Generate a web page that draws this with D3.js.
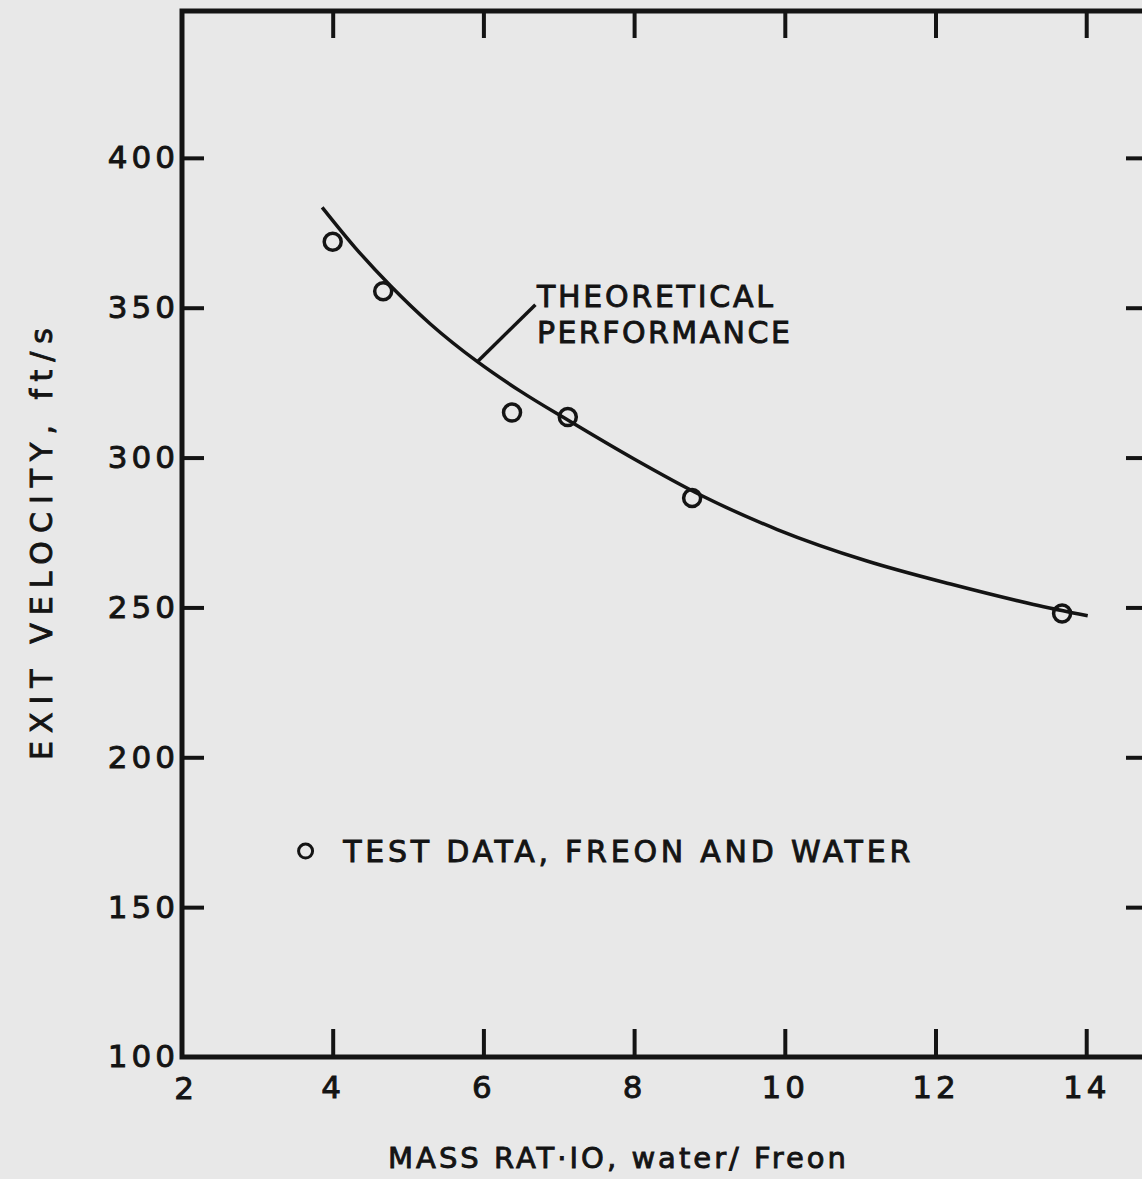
<!DOCTYPE html>
<html>
<head>
<meta charset="utf-8">
<script src="https://cdn.jsdelivr.net/npm/d3@7"></script>
<style>
  html, body { margin: 0; padding: 0; background: #e8e8e8; }
  svg { display: block; }
  text { font-family: "DejaVu Sans", sans-serif; fill: #141414; stroke: #141414; stroke-width: 0.9px; }
</style>
</head>
<body>
<div id="chart"></div>
<script>
// ---- data ----
const xTicks = [2, 4, 6, 8, 10, 12, 14];
const yTicks = [100, 150, 200, 250, 300, 350, 400];

// test data, Freon and water
const testMass = [4.0, 4.67, 6.38, 7.12, 8.77, 13.68];
const testVel = [372, 355.5, 315, 313.5, 286.5, 248];

// theoretical performance curve
const theoMass = [3.86, 4.3, 4.76, 5.3, 5.92, 6.5, 7.12, 8.0, 8.88, 9.9, 11.09, 12.2, 13.3, 14.02];
const theoVel = [383.5, 370, 357.5, 344.5, 332, 322, 312.5, 299.5, 287.5, 276, 265.5, 257.8, 251, 247.2];

const W = 1142, H = 1179;
const ink = "#141414";

const svg = d3.select("#chart").append("svg")
  .attr("width", W)
  .attr("height", H);

const x = d3.scaleLinear().domain([2, 14.82]).range([182, 1148]);
const y = d3.scaleLinear().domain([100, 449]).range([1057, 11]);

// frame
svg.append("rect")
  .attr("x", x(2))
  .attr("y", y(449))
  .attr("width", x(14.82) - x(2))
  .attr("height", y(100) - y(449))
  .attr("fill", "none")
  .attr("stroke", ink)
  .attr("stroke-width", 5);

// =========================
// AXES (ticks drawn inward)
// =========================
function styleAxis(g) {
  g.select(".domain").remove();
  g.selectAll(".tick line").attr("stroke", ink).attr("stroke-width", 4);
  g.selectAll(".tick text")
    .attr("fill", ink)
    .style("font-size", "31px")
    .style("letter-spacing", "4px");
}

svg.append("g")
  .attr("transform", `translate(0,${y(100)})`)
  .call(d3.axisBottom(x).tickValues(xTicks.slice(1)).tickSize(-28).tickPadding(19).tickFormat(d3.format("d")))
  .call(styleAxis);

svg.append("g")
  .attr("transform", `translate(0,${y(449)})`)
  .call(d3.axisTop(x).tickValues(xTicks.slice(1)).tickSize(-27).tickFormat(""))
  .call(styleAxis);

svg.append("g")
  .attr("transform", `translate(${x(2)},0)`)
  .call(d3.axisLeft(y).tickValues(yTicks).tickSize(-22).tickPadding(3).tickFormat(d3.format("d")))
  .call(styleAxis)
  .call(g => g.selectAll(".tick").filter(d => d === 100).select("line").remove());

svg.append("g")
  .attr("transform", `translate(${x(14.82)},0)`)
  .call(d3.axisRight(y).tickValues(yTicks.slice(1)).tickSize(-22).tickFormat(""))
  .call(styleAxis);

// bottom "2" label sits at the corner
svg.append("text")
  .attr("x", x(2) + 2)
  .attr("y", y(100) + 42)
  .attr("text-anchor", "middle")
  .style("font-size", "31px")
  .text(xTicks[0]);

// =========================
// AXIS TITLES
// =========================
svg.append("text")
  .attr("transform", `translate(52,${(y(100) + y(449)) / 2 + 10}) rotate(-90)`)
  .attr("text-anchor", "middle")
  .attr("textLength", 432)
  .attr("lengthAdjust", "spacing")
  .style("font-size", "30px")
  .text("EXIT VELOCITY, ft/s");

svg.append("text")
  .attr("x", 617)
  .attr("y", 1168)
  .attr("text-anchor", "middle")
  .attr("textLength", 458)
  .attr("lengthAdjust", "spacing")
  .style("font-size", "29px")
  .text("MASS RAT\u00B7IO, water/ Freon");

// =========================
// THEORETICAL CURVE
// =========================
const line = d3.line()
  .x((d, i) => x(theoMass[i]))
  .y((d, i) => y(theoVel[i]))
  .curve(d3.curveMonotoneX);

svg.append("path")
  .attr("d", line(theoMass))
  .attr("fill", "none")
  .attr("stroke", ink)
  .attr("stroke-width", 3.5);

// leader + label
svg.append("line")
  .attr("x1", x(5.92)).attr("y1", y(332))
  .attr("x2", x(6.69)).attr("y2", y(351))
  .attr("stroke", ink)
  .attr("stroke-width", 3.5);

const lbl = svg.append("g").style("font-size", "30px");
lbl.append("text")
  .attr("x", x(6.71)).attr("y", y(350.3))
  .attr("textLength", 236).attr("lengthAdjust", "spacing")
  .text("THEORETICAL");
lbl.append("text")
  .attr("x", x(6.71)).attr("y", y(338.3))
  .attr("textLength", 253).attr("lengthAdjust", "spacing")
  .text("PERFORMANCE");

// =========================
// TEST DATA POINTS
// =========================
svg.selectAll(".pt")
  .data(testMass)
  .join("circle")
  .attr("class", "pt")
  .attr("cx", d => x(d))
  .attr("cy", (d, i) => y(testVel[i]))
  .attr("r", 8.5)
  .attr("fill", "none")
  .attr("stroke", ink)
  .attr("stroke-width", 3.5);

// legend
svg.append("circle")
  .attr("cx", x(3.64)).attr("cy", y(168.7))
  .attr("r", 7)
  .attr("fill", "none")
  .attr("stroke", ink)
  .attr("stroke-width", 3);

svg.append("text")
  .attr("x", x(4.14)).attr("y", y(165))
  .attr("textLength", 567).attr("lengthAdjust", "spacing")
  .style("font-size", "30px")
  .text("TEST DATA, FREON AND WATER");
</script>
</body>
</html>
